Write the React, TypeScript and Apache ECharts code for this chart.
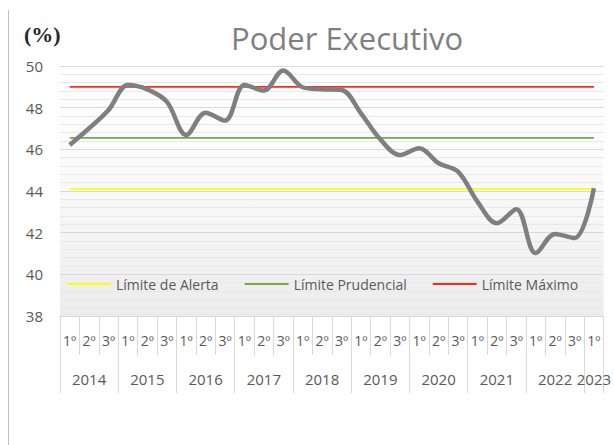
import React, { useEffect, useRef } from "react";
import * as echarts from "echarts";

const quarters = [
  "1º","2º","3º","1º","2º","3º","1º","2º","3º","1º","2º","3º","1º","2º","3º",
  "1º","2º","3º","1º","2º","3º","1º","2º","3º","1º","2º","3º","1º",
];
const years = [
  "","2014","","","2015","","","2016","","","2017","","","2018","",
  "","2019","","","2020","","","2021","","","2022","","2023",
];
const executivo = [
  46.21, 47.01, 47.89, 49.09, 48.88, 48.29, 46.69, 47.76, 47.38, 49.09, 48.82, 49.78,
  48.98, 48.88, 48.85, 47.73, 46.48, 45.73, 46.05, 45.33, 44.93, 43.49, 42.45, 43.13,
  41.02, 41.94, 41.74, 44.13,
];
const limitNames = ["Límite de Alerta", "Límite Prudencial", "Límite Máximo"];
const limitValues = [44.1, 46.55, 49.0];
const limitColors = ["#ffff00", "#70ad47", "#ff2a1a"];

const FONT = "'Open Sans', sans-serif";

export default function App() {
  const ref = useRef<HTMLDivElement>(null);
  useEffect(() => {
    if (!ref.current) return;
    const chart = echarts.init(ref.current, undefined, { renderer: "svg" });
    const limitSeries = limitNames.map((name, k) => ({
      name,
      type: "line",
      data: quarters.map(() => limitValues[k]),
      symbol: "none",
      lineStyle: { color: limitColors[k], width: 1.8 },
      itemStyle: { color: limitColors[k] },
      z: 3,
    }));
    chart.setOption({
      animation: false,
      backgroundColor: "#ffffff",
      textStyle: { fontFamily: FONT },
      title: {
        text: "Poder Executivo",
        left: 226,
        top: 17,
        textStyle: { fontFamily: FONT, fontSize: 31, fontWeight: "normal", color: "#7f7f7f" },
      },
      graphic: [
        {
          type: "line",
          shape: { x1: 8.5, y1: 10, x2: 8.5, y2: 445 },
          style: { stroke: "#c0c0c0", lineWidth: 1 },
        },
        {
          type: "text",
          x: 24,
          y: 34,
          style: {
            text: "(%)",
            font: "bold 22px 'Liberation Serif', serif",
            fill: "#262626",
            verticalAlign: "middle",
          },
        },
      ],
      legend: {
        data: limitNames,
        left: 67,
        top: 277,
        padding: 0,
        icon: "rect",
        itemWidth: 44,
        itemHeight: 2,
        itemGap: 26,
        textStyle: { fontFamily: FONT, fontSize: 14, color: "#595959" },
      },
      grid: {
        left: 60,
        right: 6,
        top: 66,
        bottom: 129,
        show: true,
        borderWidth: 0,
        backgroundColor: {
          type: "linear",
          x: 0,
          y: 0,
          x2: 0,
          y2: 1,
          colorStops: [
            { offset: 0, color: "#ffffff" },
            { offset: 0.45, color: "#fafafa" },
            { offset: 1, color: "#ececec" },
          ],
        },
      },
      xAxis: [
        {
          type: "category",
          data: quarters,
          boundaryGap: true,
          axisLine: { show: true, lineStyle: { color: "#d9d9d9", width: 1 } },
          axisTick: { show: true, interval: 0, length: 39, lineStyle: { color: "#d9d9d9" } },
          axisLabel: { interval: 0, fontSize: 14, color: "#595959", margin: 17, fontFamily: FONT },
          splitLine: { show: false },
        },
        {
          type: "category",
          data: years,
          position: "bottom",
          offset: 0,
          boundaryGap: true,
          axisLine: { show: false },
          axisTick: {
            show: true,
            interval: (i: number) => i % 3 === 0,
            length: 77,
            lineStyle: { color: "#d9d9d9" },
          },
          axisLabel: { interval: 0, fontSize: 15, color: "#595959", margin: 55, fontFamily: FONT },
          splitLine: { show: false },
        },
      ],
      yAxis: {
        type: "value",
        min: 38,
        max: 50,
        interval: 2,
        axisLine: { show: false },
        axisTick: { show: false },
        axisLabel: { fontSize: 15, color: "#595959", margin: 17, fontFamily: FONT },
        splitLine: { show: true, lineStyle: { color: "#d9d9d9", width: 1 } },
        minorTick: { show: false, splitNumber: 5 },
        minorSplitLine: { show: true, lineStyle: { color: "#e8e8e8", width: 1 } },
      },
      series: [
        ...limitSeries,
        {
          name: "Poder Executivo",
          type: "line",
          data: executivo,
          smooth: 0.35,
          symbol: "none",
          lineStyle: { color: "#7f7f7f", width: 4.5 },
          itemStyle: { color: "#7f7f7f" },
          z: 4,
        },
      ],
    });
    return () => chart.dispose();
  }, []);
  return (
    <div
      ref={ref}
      style={{ position: "fixed", left: 0, top: 0, width: 614, height: 445 }}
    />
  );
}
